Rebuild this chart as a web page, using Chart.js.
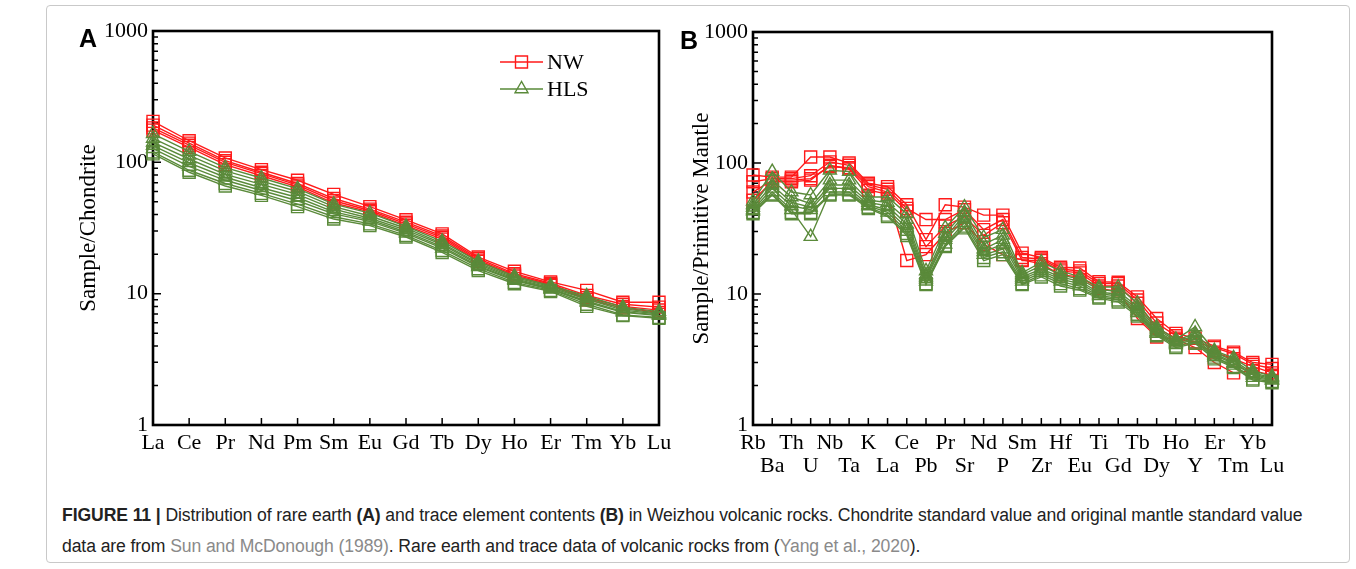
<!DOCTYPE html>
<html>
<head>
<meta charset="utf-8">
<title>Figure 11</title>
<script src="https://cdn.jsdelivr.net/npm/chart.js@4.4.1/dist/chart.umd.min.js"></script>
<style>
  body { margin: 0; background: #fff; width: 1356px; height: 569px; position: relative; overflow: hidden; }
  #frame { position: absolute; left: 46px; top: 5px; width: 1304px; height: 558px; border: 1px solid #c9c9c9; border-radius: 4px; box-sizing: border-box; }
  #boxA { position: absolute; left: 0; top: 0; }
  #boxB { position: absolute; left: 680px; top: 0; }
  .letter { position: absolute; font-family: "Liberation Sans", Arial, sans-serif; font-weight: bold; font-size: 25px; color: #000; }
  #caption { position: absolute; left: 62px; top: 500px; font-family: "Liberation Sans", Arial, sans-serif; font-size: 17.6px; line-height: 31px; color: #222; white-space: nowrap; letter-spacing: -0.1px; }
  #caption .ref { color: #8a8a8a; }
</style>
</head>
<body>
<div id="frame"></div>
<div id="boxA"><canvas id="chartA" width="700" height="490"></canvas></div>
<div id="boxB"><canvas id="chartB" width="676" height="490"></canvas></div>
<div class="letter" style="left:79px;top:24px">A</div>
<div class="letter" style="left:680px;top:26px">B</div>
<div id="caption"><b>FIGURE 11 |</b> Distribution of rare earth <b>(A)</b> and trace element contents <b>(B)</b> in Weizhou volcanic rocks. Chondrite standard value and original mantle standard value<br>data are from <span class="ref">Sun and McDonough (1989)</span>. Rare earth and trace data of volcanic rocks from (<span class="ref">Yang et al., 2020</span>).</div>

<script>
// ---- data ----
const reeLabels = ["La","Ce","Pr","Nd","Pm","Sm","Eu","Gd","Tb","Dy","Ho","Er","Tm","Yb","Lu"];
const traceLabels = ["Rb","Ba","Th","U","Nb","Ta","K","La","Ce","Pb","Pr","Sr","Nd","P","Sm","Zr","Hf","Eu","Ti","Gd","Tb","Dy","Ho","Y","Er","Tm","Yb","Lu"];
const yDecades = [1, 10, 100, 1000];

// (A) chondrite normalised REE
const reeNW = [
  [205,146,108,88,73,57,46,36.5,28.5,19,14.8,12.3,10.6,8.6,8.6],
  [192,140,103,84,69,53,44,35,27.5,18.5,14.2,12,9.7,8.3,7.9],
  [183,135,100,82,67,51,43,34,26.8,18,13.9,11.8,9.3,8.0,7.5],
  [176,130,96,79,65,49,42,33,26,17.6,13.6,11.6,9.0,7.8,7.2]
];
const reeHLS = [
  [165,121,91,76,63,48,41,32.5,25,17.6,13.6,11.5,9.6,7.9,7.3],
  [152,113,86,72,60,46,39,31.5,24.2,17.1,13.3,11.3,9.3,7.7,7.1],
  [142,106,81,68,57,44,37.5,30.5,23.6,16.7,13.0,11.1,9.1,7.5,7.0],
  [134,99,77,64,54,42,36.5,29.5,22.8,16.3,12.8,10.9,8.8,7.3,6.9],
  [127,93,73,61,51,40.5,35.5,28.8,22.2,16.0,12.6,10.8,8.6,7.2,6.8]
];
const reeHLSsq = [
  [120,87,69,58,48,38.5,34,27.8,21.3,15.5,12.2,10.6,8.3,6.9,6.6],
  [116,84,66,56,46,37,33,27,20.6,15.0,11.9,10.4,8.0,6.8,6.5]
];

// (B) primitive mantle normalised trace elements
const traceNW = [
  [81,78,78,111,111,100,70,66,48,26,48,46,40,40,20.5,19,16,15.8,12.4,12.3,9.5,6.5,5.0,4.6,4.0,3.6,3.0,2.9],
  [72,76,76,80,102,96,68,63,45,37,37,44,31,37,19,18.5,15.5,15,12,12,9.0,6.0,4.8,4.3,3.9,3.5,2.9,2.7],
  [60,74,74,76,94,92,66,60,43,23,33,39,28,35,18,18,15,14.5,11.5,11.5,8.5,5.5,4.6,4.2,3.6,3.2,2.8,2.5],
  [52,72,72,74,96,90,62,58,18,20,29,35,24,20,18.2,17,14,13.5,11,10.5,6.5,4.7,4.5,3.9,3.0,2.5,2.6,2.4]
];
const traceHLS = [
  [51,86,60,57,88,86,55,55,41,15,32,46,27,31,14.5,17.5,15,13.5,11.3,11.3,8.5,5.6,4.5,5.6,3.7,3.25,2.6,2.35],
  [48,74,55,49,74,74,52,50,37,14,29,42,24,28,14,16.5,14,13,10.8,10.5,8.0,5.4,4.4,5.0,3.6,3.1,2.5,2.3],
  [46,68,50,46,68,68,50,47,34,13.5,27,40,22,26,13.5,15.5,13.5,12.5,10.3,10,7.7,5.2,4.3,4.8,3.5,3.0,2.45,2.25],
  [44,64,47,44,64,64,48,44,32,13,26,37,21,24,13,15,13,12,10,9.7,7.4,5.1,4.2,4.6,3.4,2.95,2.4,2.2],
  [43,60,44,27.4,60,60,47,42,30,12.5,24,35,20,22,12.5,14.5,12.5,11.5,9.7,9.3,7.2,5.0,4.1,4.5,3.3,2.85,2.3,2.2]
];
const traceHLSsq = [
  [42,58,42,42,58,58,46,40,29,12,23.5,33,19,21,12,14,12,11,9.5,9.0,7.0,4.9,4.0,4.3,3.3,2.8,2.25,2.15],
  [41,57,41,41,57,57,45,39,28,11.8,23,32,18,20,11.8,13.5,11.5,10.7,9.3,8.7,6.8,4.8,3.9,4.2,3.2,2.75,2.2,2.1]
];

const red = "#ff1a1a";
const green = "#5a8a3a";
const serif = "'Liberation Serif', 'Times New Roman', serif";

function makeSet(values, color, shape, label) {
  return {
    label: label,
    data: values,
    borderColor: color,
    borderWidth: 1.4,
    fill: false,
    tension: 0,
    clip: false,
    pointStyle: shape,
    pointRadius: shape == "rect" ? 8.5 : 7.5,
    pointBorderColor: color,
    pointBackgroundColor: "rgba(0,0,0,0)",
    pointBorderWidth: 1.4,
    pointHoverRadius: 0
  };
}

function buildSets(nw, hls, hlsSq) {
  var sets = [];
  // green first so it is drawn on top (chart.js draws index 0 last)
  hls.forEach(v => sets.push(makeSet(v, green, "triangle", "HLS")));
  hlsSq.forEach(v => sets.push(makeSet(v, green, "rect", "HLS")));
  nw.forEach(v => sets.push(makeSet(v, red, "rect", "NW")));
  return sets;
}

// minor + major ticks of the log axis
function logTicks() {
  var t = [];
  for (var d = 0; d < yDecades.length - 1; d++) {
    for (var m = 1; m < 10; m++) t.push({ value: yDecades[d] * m });
  }
  t.push({ value: yDecades[yDecades.length - 1] });
  return t;
}

// frame + inward tick marks
const framePlugin = {
  id: "frame",
  beforeDatasetsDraw(chart) {
    const ctx = chart.ctx, a = chart.chartArea;
    const xs = chart.scales.x, ys = chart.scales.y;
    ctx.save();
    ctx.strokeStyle = "#000";
    ctx.lineWidth = 1.5;
    ctx.beginPath();
    ys.ticks.forEach(t => {
      const py = ys.getPixelForValue(t.value);
      const len = yDecades.includes(t.value) ? 8 : 5;
      ctx.moveTo(a.left, py);
      ctx.lineTo(a.left + len, py);
    });
    for (var i = 1; i < xs.ticks.length - 1; i++) {
      const px = xs.getPixelForTick(i);
      ctx.moveTo(px, a.bottom);
      ctx.lineTo(px, a.bottom - 7);
    }
    ctx.stroke();
    ctx.lineWidth = 2.6;
    ctx.strokeRect(a.left, a.top, a.right - a.left, a.bottom - a.top);
    ctx.restore();
  }
};

// legend: line with marker in the middle, text right of it
const legendPlugin = {
  id: "miniLegend",
  afterDatasetsDraw(chart, args, opts) {
    if (!opts.items) return;
    const ctx = chart.ctx;
    ctx.save();
    opts.items.forEach(it => {
      const x0 = opts.x, y = it.y, w = 43, cx = x0 + w / 2;
      ctx.strokeStyle = it.color;
      ctx.lineWidth = 1.4;
      ctx.beginPath();
      ctx.moveTo(x0, y); ctx.lineTo(x0 + w, y);
      if (it.shape == "rect") {
        ctx.rect(cx - 6, y - 6, 12, 12);
      } else {
        ctx.moveTo(cx, y - 7.5);
        ctx.lineTo(cx - 6.5, y + 3.75);
        ctx.lineTo(cx + 6.5, y + 3.75);
        ctx.closePath();
      }
      ctx.stroke();
      ctx.fillStyle = "#000";
      ctx.font = "22px " + serif;
      ctx.textBaseline = "middle";
      ctx.fillText(it.label, x0 + w + 4, y + 1);
    });
    ctx.restore();
  }
};

function makeChart(id, labels, sets, opt) {
  return new Chart(document.getElementById(id), {
    type: "line",
    data: { labels: labels, datasets: sets },
    plugins: [framePlugin, legendPlugin],
    options: {
      responsive: false,
      animation: false,
      events: [],
      layout: { padding: { left: 0, top: opt.top, right: opt.right, bottom: 0 } },
      plugins: {
        legend: { display: false },
        tooltip: { enabled: false },
        miniLegend: opt.legend
      },
      scales: {
        x: {
          type: "category",
          offset: false,
          grid: { display: false, drawTicks: false },
          border: { display: false },
          afterFit: s => { s.height = opt.xHeight; },
          ticks: {
            autoSkip: false, maxRotation: 0, minRotation: 0,
            padding: 7, color: "#000",
            font: { family: serif, size: 22, lineHeight: 1.05 },
            callback: opt.xLabel
          }
        },
        y: {
          type: "logarithmic",
          min: 1, max: 1000,
          grid: { display: false, drawTicks: false },
          border: { display: false },
          afterBuildTicks: s => { s.ticks = logTicks(); },
          afterFit: s => { s.width = opt.yWidth; },
          ticks: {
            autoSkip: false,
            padding: 5, color: "#000",
            font: { family: serif, size: 22 },
            callback: v => yDecades.includes(v) ? String(v) : ""
          },
          title: {
            display: true, text: opt.yTitle, color: "#000",
            font: { family: serif, size: 23 },
            padding: { top: opt.titlePad, bottom: 0 }
          }
        }
      }
    }
  });
}

makeChart("chartA", reeLabels, buildSets(reeNW, reeHLS, reeHLSsq), {
  top: 31, right: 41, xHeight: 65, yWidth: 153, titlePad: 75,
  yTitle: "Sample/Chondrite",
  xLabel: function (v, i) { return reeLabels[i]; },
  legend: { x: 500, items: [
    { label: "NW", color: red, shape: "rect", y: 62 },
    { label: "HLS", color: green, shape: "triangle", y: 89 }
  ] }
});

makeChart("chartB", traceLabels, buildSets(traceNW, traceHLS, traceHLSsq), {
  top: 32, right: 84, xHeight: 65, yWidth: 73, titlePad: 8,
  yTitle: "Sample/Primitive Mantle",
  xLabel: function (v, i) { return i % 2 ? ["", traceLabels[i]] : traceLabels[i]; },
  legend: {}
});
</script>
</body>
</html>
